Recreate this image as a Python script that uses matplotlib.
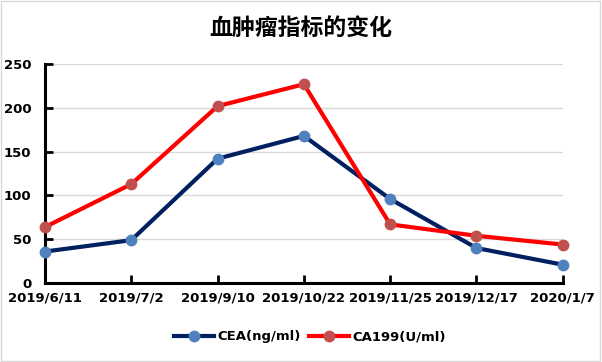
import matplotlib
matplotlib.use("Agg")
import matplotlib.pyplot as plt

plt.rcParams['font.family'] = ['Noto Sans CJK SC', 'DejaVu Sans']

dates = ["2019/6/11", "2019/7/2", "2019/9/10", "2019/10/22", "2019/11/25", "2019/12/17", "2020/1/7"]
cea = [36, 49, 142, 168, 96, 40, 21]
ca199 = [64, 113, 202, 227, 67, 54, 44]
yticks = [0, 50, 100, 150, 200, 250]

fig = plt.figure(figsize=(6.02, 3.62), dpi=100)
ax = fig.add_axes([0.0748, 0.218, 0.86, 0.605])

x = list(range(len(dates)))
ax.plot(x, cea, color='#002060', lw=3, marker='o', ms=7.5,
        mfc='#4F81BD', mec='#4F81BD', label='CEA(ng/ml)', zorder=3, clip_on=False)
ax.plot(x, ca199, color='#FF0000', lw=3, marker='o', ms=7.5,
        mfc='#C0504D', mec='#C0504D', label='CA199(U/ml)', zorder=3, clip_on=False)

ax.set_xlim(0, len(dates) - 1)
ax.set_ylim(0, 250)
ax.set_yticks(yticks)
ax.set_xticks(x)
ax.set_xticklabels(dates)
ax.grid(axis='y', color='#D9D9D9', lw=1)
ax.set_axisbelow(True)
for s in ['top', 'right']:
    ax.spines[s].set_visible(False)
for s in ['left', 'bottom']:
    ax.spines[s].set_linewidth(2.2)
    ax.spines[s].set_color('black')
ax.tick_params(axis='both', direction='in', length=6, width=2, colors='black',
               labelsize=9.5, pad=6)
for lab in ax.get_xticklabels() + ax.get_yticklabels():
    lab.set_fontweight('bold')
    lab.set_family(['DejaVu Sans'])
ax.tick_params(axis='y', pad=10)

fig.text(0.5, 0.922, "血肿瘤指标的变化", ha='center', va='center', fontsize=16.5,
         fontweight='bold')

leg = fig.legend(loc='center', bbox_to_anchor=(0.515, 0.07), ncol=2, frameon=False,
                 prop={'weight': 'bold', 'size': 9.5, 'family': ['DejaVu Sans']},
                 handlelength=3, columnspacing=0.6, handletextpad=0.3)

border = plt.Rectangle((0.002, 0.003), 0.995, 0.994, transform=fig.transFigure,
                       fill=False, ec='#D9D9D9', lw=1)
fig.add_artist(border)

fig.savefig("out.png", dpi=100, facecolor='white')
